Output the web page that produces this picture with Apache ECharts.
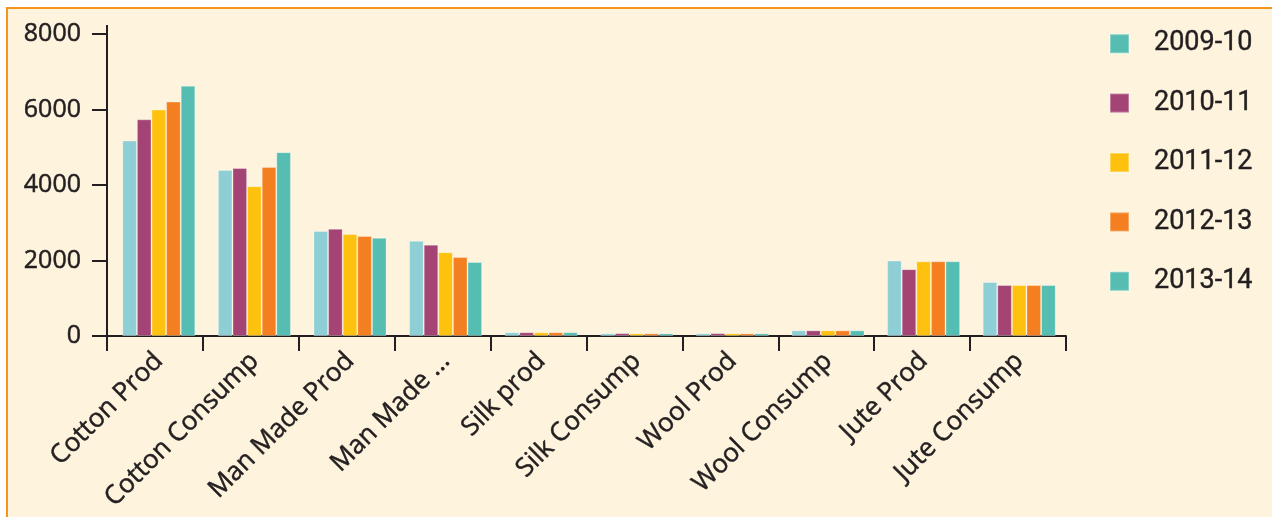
<!DOCTYPE html>
<html>
<head>
<meta charset="utf-8">
<script src="https://cdn.jsdelivr.net/npm/echarts@6/dist/echarts.min.js"></script>
<style>
html,body{margin:0;padding:0;background:#ffffff;overflow:hidden;}
#frame{position:absolute;left:6px;top:7px;width:1300px;height:600px;border:2px solid #f6921e;background:#fef4de;}
#chart{position:absolute;left:0;top:0;width:1272px;height:517px;}
</style>
</head>
<body>
<div id="frame"></div>
<div id="chart"></div>
<script>
var categories = ["Cotton Prod","Cotton Consump","Man Made Prod","Man Made Consump","Silk prod","Silk Consump","Wool Prod","Wool Consump","Jute Prod","Jute Consump"];
var tickLabels = ["Cotton Prod","Cotton Consump","Man Made Prod","Man Made ...","Silk prod","Silk Consump","Wool Prod","Wool Consump","Jute Prod","Jute Consump"];
var seriesNames = ["2009-10","2010-11","2011-12","2012-13","2013-14"];
var s2009 = [5180, 4400, 2780, 2520, 100, 70, 70, 150, 2000, 1430];
var s2010 = [5740, 4450, 2840, 2420, 100, 75, 75, 150, 1770, 1350];
var s2011 = [6000, 3970, 2700, 2220, 100, 70, 70, 150, 1980, 1350];
var s2012 = [6210, 4480, 2650, 2090, 100, 70, 70, 150, 1980, 1350];
var s2013 = [6630, 4870, 2600, 1960, 100, 70, 70, 150, 1980, 1350];
var yTicks = [0, 2000, 4000, 6000, 8000];

var barColors = ["#8ecfd6","#a34474","#fec20e","#f47f20","#55bdb1"];
var legendColors = ["#55bdb1","#a34474","#fec20e","#f47f20","#55bdb1"];
var allData = [s2009, s2010, s2011, s2012, s2013];

var chart = echarts.init(document.getElementById('chart'));
var axisColor = '#231f20';
var yMin = yTicks[0], yMax = yTicks[yTicks.length - 1], yStep = yTicks[1] - yTicks[0];
var option = {
  backgroundColor: 'transparent',
  animation: false,
  textStyle: {fontFamily: 'Open Sans'},
  grid: [
    {left: 107, top: 34, width: 959, height: 302, containLabel: false},
    {left: 111, top: 34, width: 956, height: 302, containLabel: false}
  ],
  legend: {
    orient: 'vertical',
    left: 1109,
    top: 30,
    padding: 0,
    itemWidth: 19,
    itemHeight: 19,
    itemGap: 32,
    icon: 'rect',
    textStyle: {fontFamily: 'Roboto', fontSize: 27, lineHeight: 27, color: '#231f20', padding: [0,0,0,20],
      textBorderColor: '#231f20', textBorderWidth: 0.4},
    data: seriesNames.map(function(n, i){ return {name: n, itemStyle: {color: legendColors[i]}}; })
  },
  xAxis: [
    {
      gridIndex: 0, type: 'category', data: categories,
      axisLine: {show: true, lineStyle: {color: axisColor, width: 2}},
      axisTick: {show: true, interval: 0, length: 15, lineStyle: {color: axisColor, width: 2}},
      axisLabel: {show: false}
    },
    {
      gridIndex: 1, type: 'category', data: categories,
      axisLine: {show: false}, axisTick: {show: false},
      axisLabel: {
        show: true, rotate: 45, interval: 0, margin: 21,
        fontFamily: 'Open Sans', fontSize: 26, color: axisColor,
        textBorderColor: axisColor, textBorderWidth: 0.5,
        formatter: function(v, i){ return tickLabels[i]; }
      }
    }
  ],
  yAxis: [
    {
      gridIndex: 0, type: 'value',
      min: yMin, max: yMax, interval: yStep,
      splitLine: {show: false},
      axisLine: {show: true, lineStyle: {color: axisColor, width: 2}, symbol: ['none','rect'], symbolSize: [2, 18]},
      axisTick: {show: true, length: 15, lineStyle: {color: axisColor, width: 2}},
      axisLabel: {margin: 26, fontFamily: 'Open Sans', fontSize: 25, color: axisColor,
        textBorderColor: axisColor, textBorderWidth: 0.5,
        formatter: function(v){ return String(v); }}
    },
    {
      gridIndex: 1, type: 'value', show: false,
      min: yMin, max: yMax, interval: yStep, splitLine: {show: false}
    }
  ],
  series: seriesNames.map(function(n, i){
    return {
      name: n, type: 'bar', data: allData[i],
      xAxisIndex: 1, yAxisIndex: 1,
      barGap: '0%', barCategoryGap: '23.6%',
      itemStyle: {color: barColors[i], borderColor: 'rgba(255,255,255,0.3)', borderWidth: 1}
    };
  })
};
chart.setOption(option);
</script>
</body>
</html>
